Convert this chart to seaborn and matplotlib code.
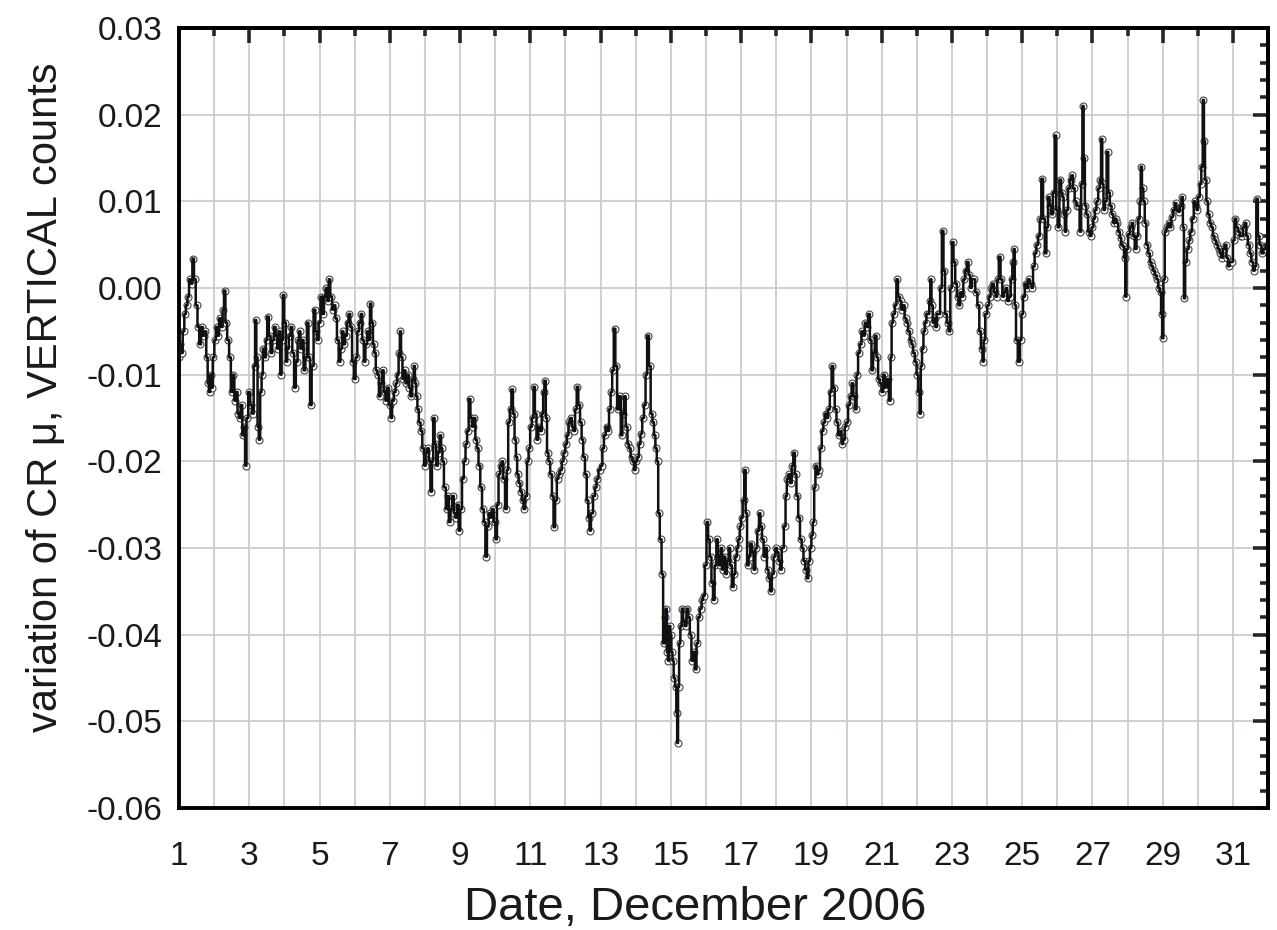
import numpy as np
import pandas as pd
import matplotlib
matplotlib.use("Agg")
import matplotlib.pyplot as plt
import seaborn as sns

# ---- data (day of December 2006, variation) ----
days = [
 1.00,1.03,1.08,1.13,1.17,1.22,1.26,1.31,1.36,1.40,1.45,1.50,1.55,1.60,1.65,1.70,1.75,1.80,1.83,1.87,
 1.90,1.94,1.98,2.03,2.07,2.12,2.16,2.22,2.26,2.30,2.34,2.40,2.45,2.50,2.55,2.60,2.64,2.69,2.73,2.78,
 2.82,2.86,2.90,2.94,3.00,3.05,3.10,3.15,3.18,3.22,3.25,3.29,3.33,3.37,3.40,3.45,3.49,3.53,3.58,3.63,
 3.68,3.73,3.77,3.82,3.86,3.90,3.94,3.97,4.02,4.06,4.10,4.15,4.20,4.25,4.30,4.35,4.40,4.43,4.48,4.52,
 4.57,4.62,4.66,4.71,4.75,4.80,4.86,4.90,4.95,5.00,5.05,5.10,5.15,5.19,5.24,5.28,5.33,5.38,5.43,5.47,
 5.52,5.57,5.62,5.66,5.70,5.75,5.80,5.85,5.90,5.95,6.00,
 6.05,6.10,6.15,6.19,6.24,6.28,6.33,6.38,6.42,6.45,6.50,6.54,6.58,6.62,6.67,6.71,6.76,6.80,6.85,6.90,
 6.95,7.00,7.04,7.09,7.14,7.19,7.23,7.27,7.30,7.34,7.38,7.42,7.47,7.52,7.56,7.61,7.66,7.70,7.73,7.77,
 7.80,7.85,7.90,7.95,8.00,8.04,8.09,8.13,8.18,8.22,8.25,8.30,8.34,8.39,8.44,8.48,8.51,8.57,8.62,8.66,
 8.70,8.75,8.80,8.84,8.89,8.94,8.98,9.03,9.08,9.13,9.18,9.22,9.27,9.32,9.36,9.41,9.46,9.50,9.55,9.60,
 9.65,9.70,9.74,9.79,9.84,9.89,9.93,9.98,10.03,10.07,10.12,10.16,10.20,10.25,10.31,10.35,10.39,10.44,10.48,10.53,
 10.57,10.61,10.64,10.69,10.74,10.78,10.83,10.88,10.93,10.97,11.02,
 11.07,11.11,11.15,11.20,11.25,11.30,11.35,11.38,11.42,11.46,11.49,11.54,11.59,11.64,11.68,11.73,11.78,11.82,11.87,11.92,
 11.97,12.02,12.06,12.11,12.16,12.20,12.25,12.30,12.34,12.39,12.44,12.48,12.53,12.58,12.63,12.67,12.70,12.75,12.82,12.86,
 12.91,12.97,13.03,13.07,13.12,13.17,13.22,13.26,13.31,13.35,13.40,13.44,13.50,13.55,13.60,13.64,13.69,13.74,13.79,13.83,
 13.88,13.93,13.97,14.02,14.07,14.11,14.16,14.21,14.26,14.30,14.35,14.40,14.45,14.50,14.54,14.58,14.62,14.66,14.71,14.76,
 14.80,14.84,14.87,14.90,14.93,14.97,15.00,15.03,15.06,15.10,15.14,15.17,15.19,15.22,15.25,15.29,15.33,15.37,15.42,15.47,
 15.52,15.56,15.61,15.66,15.71,15.75,15.80,15.85,15.90,15.94,15.99,16.04,16.08,16.13,16.18,16.22,16.27,16.32,
 16.35,16.39,16.44,16.48,16.53,16.57,16.62,16.67,16.71,16.76,16.81,16.86,16.90,16.94,16.98,17.02,17.07,17.11,17.15,17.19,
 17.24,17.28,17.33,17.38,17.43,17.49,17.53,17.57,17.62,17.66,17.71,17.76,17.80,17.85,17.90,17.95,18.00,18.04,18.09,18.13,
 18.18,18.25,18.28,18.32,18.37,18.42,18.46,18.51,18.55,18.60,18.65,18.70,18.75,18.80,18.85,18.89,18.94,18.98,19.02,19.06,
 19.10,19.13,19.18,19.22,19.27,19.32,19.36,19.41,19.45,19.50,19.55,19.60,19.64,19.69,19.74,19.78,19.84,19.88,19.93,19.97,
 20.02,20.07,20.12,20.17,20.22,20.26,20.31,20.35,20.40,20.45,20.50,20.54,20.59,20.64,20.69,20.73,20.78,20.83,20.88,20.92,
 20.97,21.02,21.07,21.11,21.17,21.24,21.27,21.30,21.35,21.40,21.44,21.49,21.54,21.58,21.63,21.68,21.73,21.78,21.83,21.87,
 21.92,21.97,22.02,22.06,22.10,22.13,
 22.17,22.21,22.25,22.30,22.34,22.37,22.40,22.44,22.47,22.51,22.55,22.60,22.64,22.69,22.74,22.78,22.83,22.88,22.93,22.98,
 23.02,23.07,23.12,23.16,23.21,23.26,23.30,23.35,23.40,23.45,23.50,23.54,23.59,23.64,23.69,23.76,23.80,23.85,23.89,23.92,
 23.98,24.03,24.08,24.12,24.17,24.22,24.27,24.31,24.36,24.41,24.46,24.50,24.55,24.60,24.65,24.70,24.74,24.77,24.81,24.84,
 24.91,24.96,25.00,25.05,25.10,25.14,25.19,25.24,25.29,25.33,25.38,25.43,25.48,25.52,25.57,25.62,25.67,25.71,25.76,25.80,
 25.85,25.90,25.95,25.99,26.03,26.09,26.13,26.16,26.20,26.23,26.28,26.33,26.38,26.42,26.47,26.52,26.57,26.61,26.66,26.70,
 26.73,26.77,26.80,26.85,26.90,26.95,27.00,
 27.05,27.09,27.14,27.19,27.23,27.26,27.30,27.33,27.38,27.43,27.47,27.52,27.57,27.62,27.66,27.71,27.76,27.80,27.84,27.88,
 27.92,27.95,27.99,28.04,28.09,28.14,28.18,28.23,28.28,28.33,28.36,28.39,28.43,28.47,28.51,28.56,28.61,28.66,28.70,28.75,
 28.80,28.85,28.90,28.94,28.97,29.00,29.04,29.08,29.13,29.18,29.22,29.27,29.32,29.37,29.41,29.46,29.51,29.56,29.59,29.62,
 29.66,29.72,29.76,29.81,29.86,29.91,29.95,29.98,30.03,30.08,30.12,30.16,30.19,30.22,30.27,30.31,30.36,30.41,30.45,30.50,
 30.55,30.60,30.64,30.69,30.74,30.79,30.84,30.88,30.93,30.98,31.02,31.07,31.12,31.17,31.22,31.26,31.31,31.36,31.40,31.45,
 31.50,31.55,31.60,31.64,31.69,31.73,31.78,31.84,31.90,31.96,
]

variation = [
 -0.0080,-0.0065,-0.0075,-0.0050,-0.0030,-0.0020,-0.0010,0.0010,0.0005,0.0034,0.0010,-0.0020,-0.0045,-0.0065,-0.0045,-0.0055,-0.0050,-0.0080,-0.0110,-0.0120,
 -0.0100,-0.0115,-0.0080,-0.0060,-0.0045,-0.0055,-0.0035,-0.0045,-0.0025,-0.0003,-0.0040,-0.0060,-0.0080,-0.0120,-0.0100,-0.0130,-0.0120,-0.0145,-0.0150,-0.0135,
 -0.0170,-0.0160,-0.0205,-0.0150,-0.0120,-0.0135,-0.0145,-0.0090,-0.0037,-0.0080,-0.0160,-0.0175,-0.0120,-0.0100,-0.0070,-0.0080,-0.0060,-0.0033,-0.0055,-0.0075,
 -0.0060,-0.0045,-0.0055,-0.0070,-0.0050,-0.0100,-0.0060,-0.0008,-0.0040,-0.0085,-0.0070,-0.0055,-0.0045,-0.0075,-0.0115,-0.0085,-0.0060,-0.0050,-0.0070,-0.0060,
 -0.0095,-0.0080,-0.0040,-0.0080,-0.0135,-0.0090,-0.0025,-0.0050,-0.0060,-0.0040,-0.0010,-0.0030,-0.0010,0.0000,-0.0015,0.0010,-0.0010,-0.0025,-0.0020,-0.0035,
 -0.0060,-0.0085,-0.0070,-0.0050,-0.0065,-0.0055,-0.0040,-0.0030,-0.0045,-0.0085,-0.0105,
 -0.0080,-0.0050,-0.0040,-0.0030,-0.0060,-0.0085,-0.0065,-0.0050,-0.0060,-0.0018,-0.0040,-0.0065,-0.0075,-0.0095,-0.0100,-0.0125,-0.0110,-0.0095,-0.0120,-0.0130,
 -0.0115,-0.0135,-0.0150,-0.0130,-0.0120,-0.0110,-0.0100,-0.0075,-0.0050,-0.0080,-0.0105,-0.0095,-0.0110,-0.0100,-0.0115,-0.0125,-0.0105,-0.0090,-0.0110,-0.0125,
 -0.0140,-0.0155,-0.0165,-0.0185,-0.0205,-0.0190,-0.0185,-0.0200,-0.0235,-0.0200,-0.0150,-0.0180,-0.0205,-0.0190,-0.0170,-0.0185,-0.0200,-0.0230,-0.0255,-0.0240,
 -0.0270,-0.0255,-0.0240,-0.0260,-0.0265,-0.0250,-0.0280,-0.0255,-0.0220,-0.0200,-0.0180,-0.0165,-0.0128,-0.0150,-0.0160,-0.0150,-0.0175,-0.0185,-0.0205,-0.0230,
 -0.0255,-0.0270,-0.0310,-0.0275,-0.0260,-0.0265,-0.0255,-0.0270,-0.0290,-0.0250,-0.0215,-0.0205,-0.0200,-0.0220,-0.0255,-0.0210,-0.0155,-0.0140,-0.0117,-0.0145,
 -0.0175,-0.0195,-0.0215,-0.0225,-0.0235,-0.0245,-0.0255,-0.0240,-0.0200,-0.0185,-0.0160,
 -0.0150,-0.0114,-0.0145,-0.0175,-0.0160,-0.0165,-0.0145,-0.0120,-0.0107,-0.0150,-0.0190,-0.0200,-0.0215,-0.0240,-0.0276,-0.0245,-0.0220,-0.0215,-0.0210,-0.0200,
 -0.0190,-0.0180,-0.0170,-0.0155,-0.0150,-0.0160,-0.0165,-0.0140,-0.0114,-0.0135,-0.0155,-0.0175,-0.0195,-0.0215,-0.0245,-0.0265,-0.0280,-0.0260,-0.0240,-0.0230,
 -0.0220,-0.0210,-0.0205,-0.0185,-0.0170,-0.0160,-0.0165,-0.0140,-0.0120,-0.0095,-0.0047,-0.0090,-0.0140,-0.0125,-0.0170,-0.0145,-0.0125,-0.0160,-0.0180,-0.0185,
 -0.0195,-0.0200,-0.0210,-0.0200,-0.0195,-0.0180,-0.0168,-0.0150,-0.0135,-0.0100,-0.0055,-0.0090,-0.0145,-0.0155,-0.0170,-0.0185,-0.0200,-0.0260,-0.0290,-0.0330,
 -0.0410,-0.0380,-0.0370,-0.0420,-0.0430,-0.0390,-0.0400,-0.0420,-0.0430,-0.0450,-0.0460,-0.0490,-0.0525,-0.0460,-0.0410,-0.0390,-0.0370,-0.0385,-0.0390,-0.0370,
 -0.0380,-0.0400,-0.0430,-0.0420,-0.0440,-0.0410,-0.0380,-0.0370,-0.0360,-0.0355,-0.0320,-0.0270,-0.0290,-0.0310,-0.0340,-0.0360,-0.0320,-0.0290,
 -0.0310,-0.0320,-0.0300,-0.0325,-0.0310,-0.0330,-0.0315,-0.0300,-0.0320,-0.0345,-0.0330,-0.0310,-0.0300,-0.0290,-0.0275,-0.0265,-0.0245,-0.0210,-0.0260,-0.0320,
 -0.0310,-0.0295,-0.0305,-0.0325,-0.0300,-0.0280,-0.0260,-0.0275,-0.0290,-0.0310,-0.0300,-0.0325,-0.0335,-0.0350,-0.0330,-0.0310,-0.0300,-0.0305,-0.0315,-0.0325,
 -0.0300,-0.0275,-0.0240,-0.0220,-0.0215,-0.0225,-0.0205,-0.0190,-0.0215,-0.0240,-0.0265,-0.0290,-0.0300,-0.0315,-0.0325,-0.0335,-0.0315,-0.0300,-0.0285,-0.0270,
 -0.0230,-0.0205,-0.0215,-0.0210,-0.0185,-0.0165,-0.0155,-0.0145,-0.0150,-0.0140,-0.0120,-0.0090,-0.0115,-0.0140,-0.0155,-0.0170,-0.0165,-0.0180,-0.0175,-0.0160,
 -0.0155,-0.0135,-0.0125,-0.0110,-0.0125,-0.0140,-0.0100,-0.0075,-0.0065,-0.0050,-0.0055,-0.0040,-0.0045,-0.0030,-0.0060,-0.0095,-0.0075,-0.0055,-0.0080,-0.0105,
 -0.0110,-0.0120,-0.0100,-0.0115,-0.0105,-0.0130,-0.0080,-0.0040,-0.0030,-0.0020,0.0010,-0.0010,-0.0015,-0.0025,-0.0020,-0.0035,-0.0040,-0.0050,-0.0060,-0.0065,
 -0.0075,-0.0085,-0.0100,-0.0120,-0.0145,-0.0090,
 -0.0070,-0.0050,-0.0040,-0.0030,-0.0030,-0.0015,0.0010,-0.0020,-0.0040,-0.0035,-0.0045,-0.0030,-0.0030,0.0000,0.0066,0.0020,-0.0030,-0.0040,-0.0050,0.0000,
 0.0053,0.0030,0.0005,-0.0010,-0.0020,-0.0005,-0.0010,0.0010,0.0020,0.0030,0.0015,0.0000,0.0010,0.0010,-0.0005,-0.0020,-0.0050,-0.0070,-0.0085,-0.0060,
 -0.0030,-0.0020,-0.0010,0.0000,0.0005,-0.0005,-0.0010,0.0010,0.0036,0.0010,-0.0010,-0.0005,0.0000,-0.0015,-0.0010,0.0010,0.0030,0.0045,-0.0020,-0.0060,
 -0.0085,-0.0060,-0.0030,-0.0010,0.0005,0.0000,0.0010,0.0005,0.0000,0.0025,0.0040,0.0050,0.0060,0.0080,0.0126,0.0080,0.0040,0.0070,0.0105,0.0095,
 0.0085,0.0110,0.0176,0.0090,0.0070,0.0125,0.0110,0.0105,0.0085,0.0065,0.0090,0.0115,0.0125,0.0130,0.0115,0.0100,0.0095,0.0095,0.0065,0.0120,
 0.0210,0.0150,0.0095,0.0085,0.0065,0.0060,0.0070,
 0.0080,0.0090,0.0100,0.0115,0.0125,0.0172,0.0120,0.0090,0.0100,0.0157,0.0110,0.0095,0.0085,0.0075,0.0080,0.0075,0.0065,0.0058,0.0050,0.0048,
 0.0035,-0.0010,0.0045,0.0062,0.0070,0.0075,0.0060,0.0045,0.0060,0.0080,0.0100,0.0140,0.0115,0.0100,0.0075,0.0050,0.0040,0.0030,0.0025,0.0020,
 0.0015,0.0010,0.0000,-0.0005,-0.0030,-0.0058,0.0010,0.0065,0.0070,0.0075,0.0070,0.0082,0.0090,0.0098,0.0090,0.0088,0.0095,0.0105,0.0070,-0.0012,
 0.0030,0.0045,0.0055,0.0065,0.0080,0.0100,0.0095,0.0090,0.0105,0.0120,0.0140,0.0217,0.0170,0.0125,0.0100,0.0085,0.0075,0.0070,0.0060,0.0055,
 0.0050,0.0045,0.0040,0.0035,0.0045,0.0050,0.0035,0.0025,0.0030,0.0030,0.0055,0.0080,0.0070,0.0065,0.0060,0.0060,0.0070,0.0075,0.0060,0.0050,
 0.0040,0.0030,0.0020,0.0025,0.0103,0.0060,0.0050,0.0040,0.0045,0.0050,
]

x_major = [1, 3, 5, 7, 9, 11, 13, 15, 17, 19, 21, 23, 25, 27, 29, 31]
x_major_labels = ["1", "3", "5", "7", "9", "11", "13", "15", "17", "19", "21",
                  "23", "25", "27", "29", "31"]
y_major = [-0.06, -0.05, -0.04, -0.03, -0.02, -0.01, 0.00, 0.01, 0.02, 0.03]
y_major_labels = ["-0.06", "-0.05", "-0.04", "-0.03", "-0.02", "-0.01",
                  "0.00", "0.01", "0.02", "0.03"]

df = pd.DataFrame({"day": days, "variation": variation})

sns.set_style("white")
plt.rcParams["font.family"] = ["Liberation Sans", "DejaVu Sans"]

fig = plt.figure(figsize=(12.77, 9.30), dpi=100)
ax = fig.add_axes([0.1402, 0.1312, 0.8528, 0.8387])

# open-circle trace underneath, black step line on top
ax.plot(df["day"], df["variation"], linestyle="none", marker="o",
        markersize=5, markerfacecolor="white", markeredgecolor="#444444",
        markeredgewidth=0.8, zorder=2)
sns.lineplot(data=df, x="day", y="variation", ax=ax, color="#111111",
             linewidth=1.8, drawstyle="steps-mid", sort=False,
             estimator=None, zorder=3)

ax.set_xlim(1, 32)
ax.set_ylim(-0.06, 0.03)

ax.set_xticks(x_major, x_major_labels)
ax.set_xticks(np.arange(2, 33, 2), minor=True)
ax.set_yticks(y_major, y_major_labels)
ax.set_yticks(np.arange(-0.06, 0.0301, 0.002), minor=True)

# grid: every day vertically, every 0.01 horizontally
gcol = "#c9cbd5"
for d in range(1, 33):
    ax.axvline(d, color=gcol, linewidth=1.3, zorder=0)
for yv in y_major:
    ax.axhline(yv, color=gcol, linewidth=1.3, zorder=0)

ax.tick_params(axis="x", which="major", direction="out", length=11, width=2.6,
               labelsize=24, pad=13, color="black", labelcolor="#1a1a1a")
ax.tick_params(axis="x", which="minor", direction="out", length=5.5, width=2.6,
               color="black")
ax.tick_params(axis="y", which="major", direction="out", length=11, width=2.6,
               labelsize=24, pad=1, color="black", labelcolor="#1a1a1a")
ax.tick_params(axis="y", which="minor", direction="out", length=5.5, width=2.6,
               color="black")

for sp in ax.spines.values():
    sp.set_linewidth(2.8)
    sp.set_color("black")
    sp.set_visible(True)

# mirrored ticks on top and right, pointing inward
top = ax.secondary_xaxis("top")
top.set_xticks(x_major)
top.set_xticks(np.arange(2, 33, 2), minor=True)
top.tick_params(axis="x", which="major", direction="in", length=11, width=2.6,
                labeltop=False)
top.tick_params(axis="x", which="minor", direction="in", length=5.5, width=2.6)
top.spines["top"].set_linewidth(2.8)

right = ax.secondary_yaxis("right")
right.set_yticks(y_major)
right.set_yticks(np.arange(-0.06, 0.0301, 0.002), minor=True)
right.tick_params(axis="y", which="major", direction="in", length=11, width=2.6,
                  labelright=False)
right.tick_params(axis="y", which="minor", direction="in", length=5.5, width=2.6)
right.spines["right"].set_linewidth(2.8)

ax.set_xlabel("Date, December 2006", fontsize=34, color="#1a1a1a")
ax.set_ylabel("variation of CR μ, VERTICAL counts", fontsize=30,
              color="#1a1a1a")
ax.xaxis.set_label_coords(0.474, -0.100)
ax.yaxis.set_label_coords(-0.104, 0.527)

fig.savefig("out.png", dpi=100)
